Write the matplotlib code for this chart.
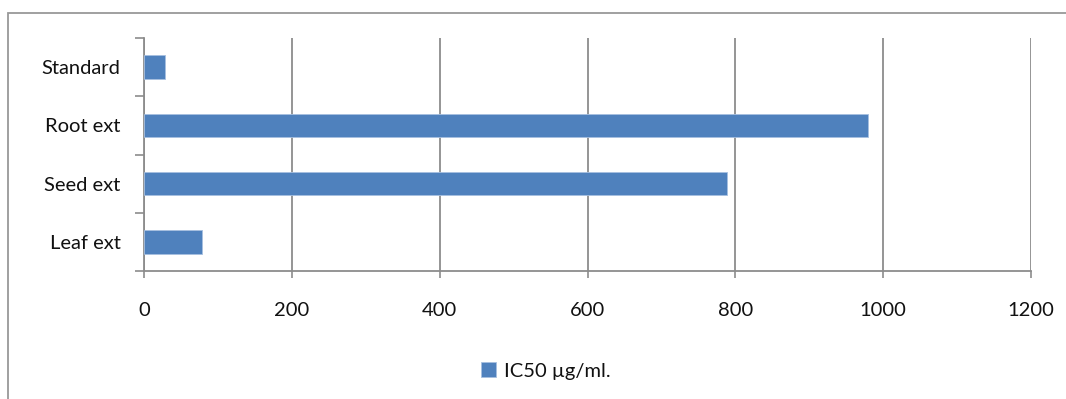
import matplotlib.pyplot as plt
from matplotlib.patches import Rectangle

# IC50 values (µg/ml) per extract
categories = ['Leaf ext', 'Seed ext', 'Root ext', 'Standard']
ic50_values = [78, 789, 980, 28]
series_label = 'IC50 µg/ml.'
x_ticks = [0, 200, 400, 600, 800, 1000, 1200]

plt.rcParams['font.family'] = ['Lato', 'DejaVu Sans']

W, H = 1066, 399
fig = plt.figure(figsize=(W / 100, H / 100), dpi=100)
ax = fig.add_axes([144 / W, 1 - 271 / H, 887 / W, 233 / H])

grid_color = '#8c8c8c'
bar_color = '#4f81bd'
text_color = '#111111'
fs = 14.5

ax.barh(range(len(categories)), ic50_values, height=0.4, color=bar_color,
        edgecolor='#a7c0e0', linewidth=0.6, zorder=3, label=series_label)

ax.set_xlim(0, 1200)
ax.set_ylim(-0.5, len(categories) - 0.5)
ax.set_xticks(x_ticks)
ax.set_xticklabels([str(t) for t in x_ticks])
ax.set_yticks(range(len(categories)))
ax.set_yticklabels(categories)

# category boundary ticks on the y axis
ax.set_yticks([i - 0.5 for i in range(len(categories) + 1)], minor=True)
ax.tick_params(axis='y', which='major', length=0, pad=17, labelsize=fs,
               labelcolor=text_color)
ax.tick_params(axis='y', which='minor', length=6.5, width=1.2, color=grid_color)
ax.tick_params(axis='x', which='major', length=5, width=1.2, color=grid_color,
               pad=17, labelsize=fs, labelcolor=text_color)

ax.xaxis.grid(True, color=grid_color, linewidth=1.3, zorder=0)
for side in ('top', 'right'):
    ax.spines[side].set_visible(False)
for side in ('left', 'bottom'):
    ax.spines[side].set_color(grid_color)
    ax.spines[side].set_linewidth(1.3)

# chart area border
fig.patches.append(Rectangle((8 / W, -0.1), 1.2, 1 - 13 / H + 0.1,
                             transform=fig.transFigure, fill=False,
                             edgecolor='#999999', linewidth=1.3))

fig.legend(loc='center', bbox_to_anchor=(546 / W, 1 - 371 / H), frameon=False,
           fontsize=fs, handlelength=0.75, handleheight=0.75, handletextpad=0.4,
           labelcolor=text_color)

fig.savefig('out.png', dpi=100)
